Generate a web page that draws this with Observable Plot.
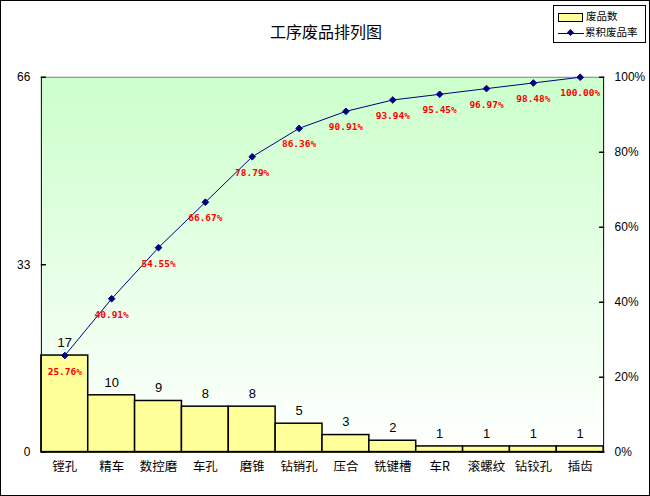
<!DOCTYPE html>
<html>
<head>
<meta charset="utf-8">
<script src="https://cdn.jsdelivr.net/npm/d3@7"></script>
<script src="https://cdn.jsdelivr.net/npm/@observablehq/plot@0.6"></script>
<style>
  html, body { margin: 0; padding: 0; background: #fff; }
  #wrap { position: relative; width: 648px; height: 494px; border: 1px solid #000; overflow: hidden; }
  #wrap svg { position: absolute; left: -1px; top: -1px; }
  #title { position: absolute; left: 0; width: 650px; top: 18px; text-align: center;
           font-family: "Noto Sans CJK SC", sans-serif; font-size: 16px; color: #000; }
  #legend { position: absolute; left: 552px; top: 4px; width: 91px; height: 36px; border: 1px solid #000;
            background: #fff; font-family: "Noto Sans CJK SC", sans-serif; font-size: 10.5px; }
  .row { position: absolute; left: 4px; height: 16px; line-height: 16px; white-space: nowrap; }
  .sw { display: inline-block; vertical-align: middle; width: 24px; margin-right: 3px; position: relative; }
</style>
</head>
<body>
<div id="wrap">
  <div id="title">工序废品排列图</div>
  <div id="legend">
    <div class="row" style="top:2px"><span class="sw" style="height:7px;background:#ffff99;border:1px solid #000;width:23px;"></span>废品数</div>
    <div class="row" style="top:18px"><span class="sw" style="height:16px;"><span style="position:absolute;left:0;top:8px;width:26px;height:1px;background:#000080"></span><span style="position:absolute;left:10px;top:5px;width:5px;height:5px;background:#000080;transform:rotate(45deg)"></span></span>累积废品率</div>
  </div>
</div>
<script>
const categories = ["镗孔", "精车", "数控磨", "车孔", "磨锥", "钻销孔", "压合", "铣键槽", "车R", "滚螺纹", "钻铰孔", "插齿"];
const counts = [17, 10, 9, 8, 8, 5, 3, 2, 1, 1, 1, 1];
const cumPct = [25.76, 40.91, 54.55, 66.67, 78.79, 86.36, 90.91, 93.94, 95.45, 96.97, 98.48, 100.00];
const leftTicks = [0, 33, 66];
const rightTicks = [0, 20, 40, 60, 80, 100];

const total = d3.sum(counts);
const data = categories.map((c, i) => ({cat: c, n: counts[i], pct: cumPct[i], yp: cumPct[i] / 100 * total}));

const defs = () => {
  const d = d3.create("svg:defs");
  const g = d.append("linearGradient").attr("id", "bg").attr("x1", 0).attr("y1", 0).attr("x2", 0).attr("y2", 1);
  g.append("stop").attr("offset", "0%").attr("stop-color", "#ccffcc");
  g.append("stop").attr("offset", "100%").attr("stop-color", "#ffffff");
  return d.node();
};

const chart = Plot.plot({
  width: 650,
  height: 496,
  marginLeft: 41,
  marginRight: 45,
  marginTop: 77,
  marginBottom: 43,
  style: {background: "transparent", overflow: "visible"},
  x: {domain: categories, padding: 0, label: null},
  y: {domain: [0, total], label: null},
  marks: [
    defs,
    Plot.frame({fill: "url(#bg)", stroke: "none"}),
    Plot.frame({anchor: "top", stroke: "#808080"}),
    Plot.barY(data, {x: "cat", y: "n", fill: "#ffff99", stroke: "#000", strokeWidth: 1.5}),
    Plot.frame({anchor: "left", stroke: "#000"}),
    Plot.frame({anchor: "right", stroke: "#000"}),
    Plot.frame({anchor: "bottom", stroke: "#000", strokeWidth: 1.5}),
    Plot.axisY({ticks: leftTicks, tickSize: 0, tickPadding: 11, anchor: "left", fontSize: 12, fontFamily: "Liberation Sans, Arial, sans-serif", fill: "#000"}),
    Plot.vector(leftTicks, {y: d => d, frameAnchor: "left", rotate: 90, length: 4, anchor: "start", stroke: "#000", shape: "spike", r: 0}),
    Plot.axisY({ticks: rightTicks.map(p => p / 100 * total), tickSize: 0, tickPadding: 11, anchor: "right",
                tickFormat: d => Math.round(d / total * 100) + "%", fontSize: 12, fontFamily: "Liberation Sans, Arial, sans-serif", fill: "#000"}),
    Plot.vector(rightTicks.map(p => p / 100 * total), {y: d => d, frameAnchor: "right", rotate: -90, length: 4, anchor: "start", stroke: "#000", shape: "spike", r: 0}),
    Plot.axisX({tickSize: 0, tickPadding: 10, fontSize: 12.5, fontFamily: "Noto Sans CJK SC, sans-serif", fill: "#000"}),
    Plot.text(data, {x: "cat", y: "n", text: d => String(d.n), dy: -13, fontSize: 13, fontFamily: "Liberation Sans, Arial, sans-serif", fill: "#000"}),
    Plot.line(data, {x: "cat", y: "yp", stroke: "#000080", strokeWidth: 1}),
    Plot.dot(data, {x: "cat", y: "yp", symbol: "diamond2", r: 3, fill: "#000080", stroke: "#000080", strokeWidth: 1}),
    Plot.text(data, {x: "cat", y: "yp", text: d => d.pct.toFixed(2) + "%", dy: 16, fontSize: 9.5, fontWeight: "bold", fontFamily: "DejaVu Sans Mono, monospace", fill: "#ff0000"})
  ]
});
document.getElementById("wrap").prepend(chart);
</script>
</body>
</html>
